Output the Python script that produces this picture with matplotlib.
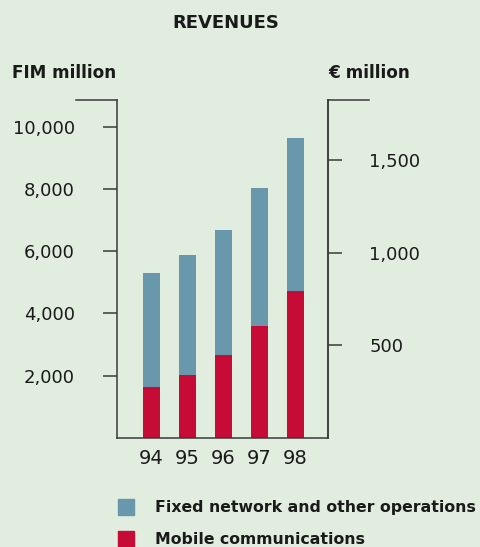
import matplotlib
matplotlib.use("Agg")
import matplotlib.pyplot as plt
from matplotlib.patches import Rectangle
from matplotlib.lines import Line2D
from matplotlib.ticker import FixedLocator, FuncFormatter

years = ["94", "95", "96", "97", "98"]
mobile = [1630, 2016, 2659, 3592, 4717]
total = [5296, 5875, 6678, 8029, 9637]
fixed = [t - m for t, m in zip(total, mobile)]
left_ticks = [2000, 4000, 6000, 8000, 10000]
right_ticks = [500, 1000, 1500]
FIM_PER_EUR = 5.94573
series_names = ["Fixed network and other operations", "Mobile communications"]

BG = "#e1eddf"
BLUE = "#6997ab"
RED = "#c60c36"
INK = "#1a1a1a"
SPINE = "#3a3a3a"

W, H = 480, 547
fig = plt.figure(figsize=(W / 100, H / 100), dpi=100, facecolor=BG)

def fx(px):
    return px / W

def fy(py):
    return 1 - py / H

ax_l, ax_r, ax_t, ax_b = 116.7, 327.7, 100.0, 437.7
ax = fig.add_axes([fx(ax_l), fy(ax_b), fx(ax_r - ax_l), (ax_b - ax_t) / H])
ax.set_facecolor(BG)

x = list(range(len(years)))
ax.bar(x, mobile, width=0.472, color=RED, zorder=2)
ax.bar(x, fixed, width=0.472, bottom=mobile, color=BLUE, zorder=2)

ax.set_xlim(-0.967, 4.894)
ymax = 10859
ax.set_ylim(0, ymax)

ax.set_xticks(x)
ax.set_xticklabels(years, fontsize=14, color=INK)
ax.tick_params(axis="x", length=0, pad=8)

ax.yaxis.set_major_locator(FixedLocator(left_ticks))
ax.yaxis.set_major_formatter(FuncFormatter(lambda v, p: f"{int(v):,}"))
ax.tick_params(axis="y", length=10, width=1.1, color=SPINE, pad=20,
               labelsize=13, labelcolor=INK)

ax.spines["top"].set_visible(False)
for s in ["left", "right", "bottom"]:
    ax.spines[s].set_color(SPINE)
    ax.spines[s].set_linewidth(1.1)

ax2 = ax.twinx()
ax2.set_ylim(0, ymax / FIM_PER_EUR)
ax2.yaxis.set_major_locator(FixedLocator(right_ticks))
ax2.yaxis.set_major_formatter(FuncFormatter(lambda v, p: f"{int(v):,}"))
ax2.tick_params(axis="y", length=10, width=1.1, color=SPINE, pad=20,
                labelsize=13, labelcolor=INK)
for s in ["top", "left", "bottom"]:
    ax2.spines[s].set_visible(False)
ax2.spines["right"].set_color(SPINE)
ax2.spines["right"].set_linewidth(1.1)

# top stubs
ax.add_line(Line2D([(76 - ax_l) / (ax_r - ax_l), 0], [1, 1], transform=ax.transAxes,
                   clip_on=False, color=SPINE, lw=1.1))
ax.add_line(Line2D([1, (369 - ax_l) / (ax_r - ax_l)], [1, 1], transform=ax.transAxes,
                   clip_on=False, color=SPINE, lw=1.1))

fig.text(fx(225.5), fy(23.5), "REVENUES", ha="center", va="center",
         fontsize=13, fontweight="bold", color=INK)
fig.text(fx(12.5), fy(73.5), "FIM million", ha="left", va="center",
         fontsize=12.2, fontweight="bold", color=INK)
fig.text(fx(328), fy(73.5), "€ million", ha="left", va="center",
         fontsize=12.2, fontweight="bold", color=INK)

# legend
for i, (name, col) in enumerate(zip(series_names, [BLUE, RED])):
    yc = 507.3 + i * 32
    fig.add_artist(Rectangle((fx(118.3), fy(yc + 8)), fx(16), 16 / H,
                             transform=fig.transFigure, color=col))
    fig.text(fx(155), fy(yc), name, ha="left", va="center",
             fontsize=11.3, fontweight="bold", color=INK)

fig.savefig("out.png", dpi=100, facecolor=BG)
